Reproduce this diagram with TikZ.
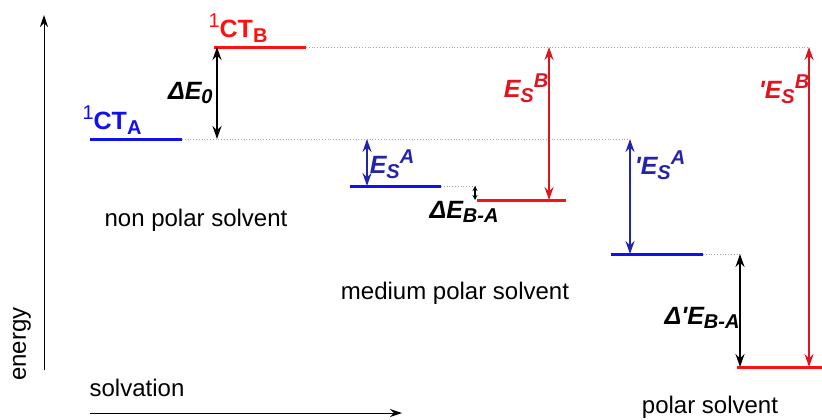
\documentclass[tikz,border=0pt]{standalone}
\usepackage{fontspec}
\setmainfont{Liberation Sans}
\usetikzlibrary{arrows.meta}
\definecolor{ctred}{HTML}{FF1010}
\definecolor{arrred}{HTML}{E0141E}
\definecolor{ctblue}{HTML}{1010F0}
\definecolor{arrblue}{HTML}{2424A8}
\newcommand{\lsub}[1]{\raisebox{-0.35ex}{\fontsize{10}{12}\selectfont #1}}
\newcommand{\lsup}[1]{\raisebox{0.75ex}{\fontsize{10}{12}\selectfont #1}}

\begin{document}
\begin{tikzpicture}[
  x=0.5pt, y=-0.5pt,
  level/.style={line width=1.5pt, draw=#1},
  guide/.style={densely dotted, draw=gray!70, line width=0.4pt},
  gap/.style={{Stealth[length=6.5pt,width=4.5pt]}-{Stealth[length=6.5pt,width=4.5pt]}, line width=1pt, draw=#1},
  axis/.style={-{Stealth[length=6pt,width=4pt]}, line width=0.5pt},
  lbl/.style={font=\fontsize{12.5}{14}\selectfont\bfseries\itshape, text=#1, inner sep=0pt},
  ctlbl/.style={font=\fontsize{12.5}{14}\selectfont\bfseries, text=#1, inner sep=0pt},
  plain/.style={font=\fontsize{12}{14}\selectfont, inner sep=0pt}
]
\useasboundingbox (0,0) rectangle (822,419);

% Axes
\coordinate (ybot) at (44,370);
\coordinate (ytop) at (44,15);
\coordinate (xl) at (90,413);
\coordinate (xr) at (402,413);
\draw[axis] (ybot) -- (ytop);
\draw[axis] (xl) -- (xr);
\node[plain, rotate=90] (energy) at (22,344) {energy};
\node[plain] (solv) at (137,388) {solvation};

% Levels
\coordinate (ctaL) at (90,139);  \coordinate (ctaR) at (182,139);
\coordinate (ctbL) at (214,47);  \coordinate (ctbR) at (306,47);
\coordinate (maL) at (350,186);  \coordinate (maR) at (441,186);
\coordinate (mbL) at (477,200);  \coordinate (mbR) at (566,200);
\coordinate (paL) at (611,254);  \coordinate (paR) at (703,254);
\coordinate (pbL) at (737,367);  \coordinate (pbR) at (822,367);

% Guide lines
\coordinate (g1) at (810,47);
\coordinate (g2) at (630,139);
\coordinate (g3) at (475,186);
\coordinate (g4) at (740,254);
\draw[guide] (ctbR) -- (g1);
\draw[guide] (ctaR) -- (g2);
\draw[guide] (maR) -- (g3);
\draw[guide] (paR) -- (g4);

\draw[level=ctblue] (ctaL) -- (ctaR);
\draw[level=ctred] (ctbL) -- (ctbR);
\draw[level=ctblue] (maL) -- (maR);
\draw[level=ctred] (mbL) -- (mbR);
\draw[level=ctblue] (paL) -- (paR);
\draw[level=ctred] (pbL) -- (pbR);

% Gaps
\coordinate (e0t) at (217,47);   \coordinate (e0b) at (217,139);
\coordinate (sat) at (367,139);  \coordinate (sab) at (367,186);
\coordinate (bat) at (475,186);  \coordinate (bab) at (475,200);
\coordinate (sbt) at (549,47);   \coordinate (sbb) at (549,200);
\coordinate (pat) at (630,139);  \coordinate (pab) at (630,254);
\coordinate (pdt) at (740,254);  \coordinate (pdb) at (740,367);
\coordinate (pbt) at (809,47);   \coordinate (pbb) at (809,367);
\draw[gap=black] (e0t) -- (e0b);
\draw[gap=arrblue] (sat) -- (sab);
\draw[{Stealth[length=2.5pt,width=2.5pt]}-{Stealth[length=2.5pt,width=2.5pt]}, line width=0.6pt] (bat) -- (bab);
\draw[gap=arrred] (sbt) -- (sbb);
\draw[gap=arrblue] (pat) -- (pab);
\draw[gap=black] (pdt) -- (pdb);
\draw[gap=arrred] (pbt) -- (pbb);

% Labels
\node[ctlbl=ctblue] (cta) at (112,120) {\lsup{\mdseries 1}CT\lsub{A}};
\node[ctlbl=ctred] (ctb) at (238,28) {\lsup{\mdseries 1}CT\lsub{B}};
\node[lbl=black, anchor=east] (de0) at (213,93) {ΔE\lsub{0}};
\node[lbl=arrblue] (esa) at (392,164) {E\lsub{S}\lsup{A}};
\node[lbl=black] (deba) at (464,212) {ΔE\lsub{B-A}};
\node[lbl=arrred] (esb) at (526,88) {E\lsub{S}\lsup{B}};
\node[lbl=arrblue] (pesa) at (660,165) {\textquotesingle E\lsub{S}\lsup{A}};
\node[lbl=black] (pdeba) at (702,318) {Δ\textquotesingle E\lsub{B-A}};
\node[lbl=arrred] (pesb) at (784,89) {\textquotesingle E\lsub{S}\lsup{B}};

% Solvent captions
\node[plain] (nonpol) at (196,220) {non polar solvent};
\node[plain] (medpol) at (455,293) {medium polar solvent};
\node[plain] (pol) at (710,407) {polar solvent};

\end{tikzpicture}
\end{document}
